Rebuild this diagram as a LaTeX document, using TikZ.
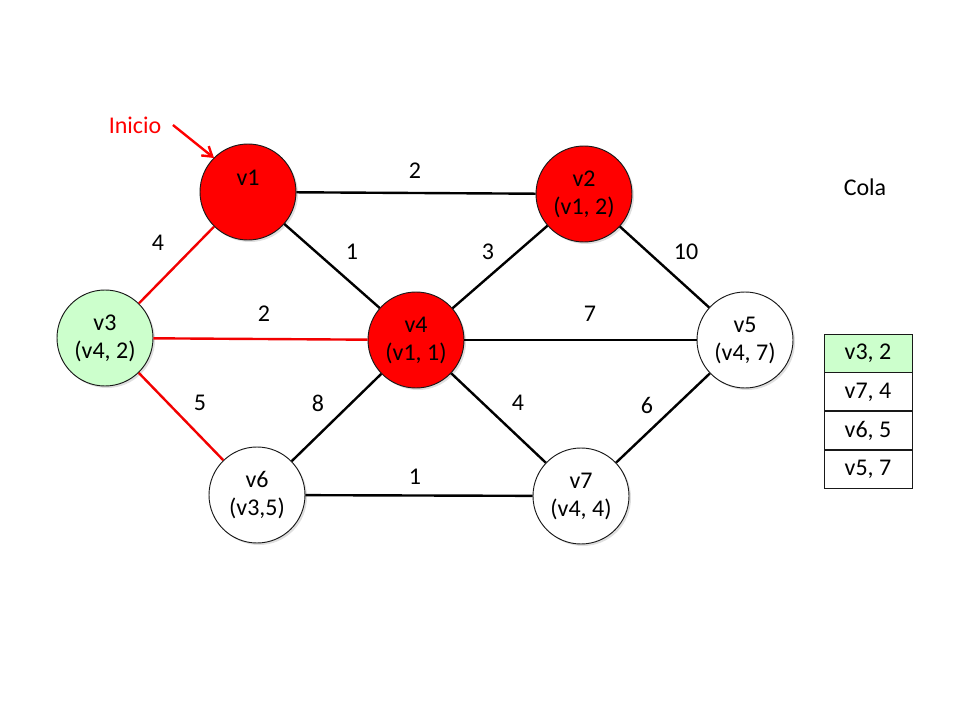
\documentclass[tikz,border=0pt]{standalone}
\usepackage{fontspec}
\setmainfont{Carlito}
\usepackage{tikz}
\usetikzlibrary{positioning,shadows,arrows.meta}

\begin{document}
\begin{tikzpicture}[x=0.75pt, y=-0.75pt,
    font=\fontsize{18}{21}\selectfont,
    vertex/.style={circle, draw=black!90, line width=0.7pt, minimum size=72pt,
      inner sep=0pt, align=center, text=black,
      drop shadow={shadow xshift=1.5pt, shadow yshift=-1.5pt, opacity=0.25}},
    edge/.style={line width=1.8pt, black},
    tree/.style={line width=1.8pt, red!95!black},
    weight/.style={text=black},
    cell/.style={draw=black!90, line width=0.7pt, minimum width=66pt,
      minimum height=28.5pt, inner sep=0pt, text=black}]
  \definecolor{visited}{HTML}{FF0000}
  \definecolor{queued}{HTML}{CCFFCC}
  \useasboundingbox (0,0) rectangle (960,720);

  % vertices
  \node[vertex, fill=visited] (v1) at (248,192) {v1\\~};
  \node[vertex, fill=visited] (v2) at (584,194) {v2\\(v1, 2)};
  \node[vertex, fill=queued]  (v3) at (105,338) {v3\\(v4, 2)};
  \node[vertex, fill=visited] (v4) at (416,340) {v4\\(v1, 1)};
  \node[vertex, fill=white]   (v5) at (745,340) {v5\\(v4, 7)};
  \node[vertex, fill=white]   (v6) at (257,495) {v6\\(v3,5)};
  \node[vertex, fill=white]   (v7) at (581,496) {v7\\(v4, 4)};

  % edges
  \draw[edge] (v1) -- (v2);
  \draw[edge] (v1) -- (v4);
  \draw[edge] (v2) -- (v4);
  \draw[edge] (v2) -- (v5);
  \draw[edge] (v4) -- (v5);
  \draw[edge] (v4) -- (v6);
  \draw[edge] (v4) -- (v7);
  \draw[edge] (v5) -- (v7);
  \draw[edge] (v6) -- (v7);
  \draw[tree] (v3) -- (v1);
  \draw[tree] (v3) -- (v4);
  \draw[tree] (v3) -- (v6);

  % weights
  \node[weight] (w12) at (415,171) {2};
  \node[weight] (w14) at (352,252) {1};
  \node[weight] (w24) at (488,252) {3};
  \node[weight] (w25) at (686,252) {10};
  \node[weight] (w13) at (158,243) {4};
  \node[weight] (w34) at (264,314) {2};
  \node[weight] (w45) at (590,314) {7};
  \node[weight] (w36) at (200,403) {5};
  \node[weight] (w46) at (318,403) {8};
  \node[weight] (w47) at (518,403) {4};
  \node[weight] (w57) at (647,405) {6};
  \node[weight] (w67) at (415,477) {1};

  % start
  \node[text=visited] (start) at (135,125) {Inicio};
  \coordinate (starttip) at (214,158);
  \draw[line width=1.8pt, visited, -{Straight Barb[length=7pt, width=9pt]}]
    (start.east) ++(7,0) -- (starttip);

  % queue
  \node[weight] (cola) at (865,187) {Cola};
  \foreach \item [count=\i] in {{v3, 2},{v7, 4},{v6, 5},{v5, 7}} {
    \ifnum\i=1
      \node[cell, fill=queued] (q\i) at (868,353) {\item};
    \else
      \pgfmathtruncatemacro\prev{\i-1}
      \node[cell, fill=white, below=0pt of q\prev] (q\i) {\item};
    \fi
  }
\end{tikzpicture}
\end{document}
